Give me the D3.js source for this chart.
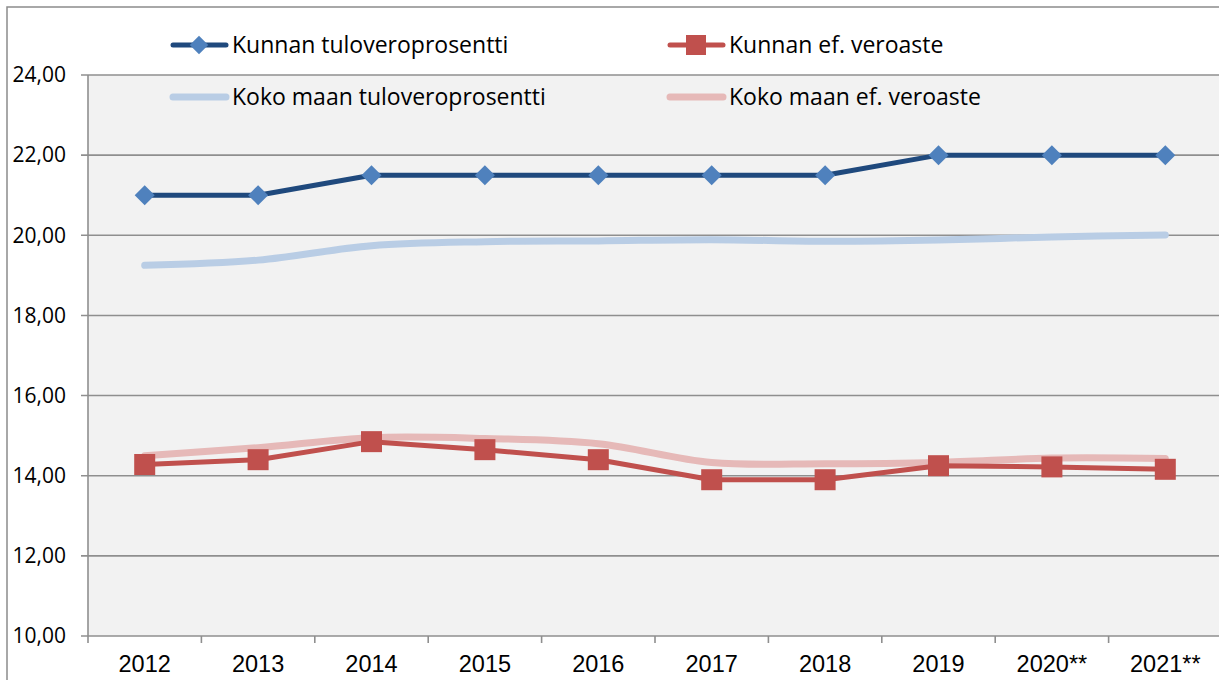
<!DOCTYPE html>
<html><head><meta charset="utf-8">
<script src="https://cdn.jsdelivr.net/npm/d3@7"></script>
<style>body{margin:0;background:#fff;}svg{display:block;}</style>
</head><body>
<script>
const categories = ["2012","2013","2014","2015","2016","2017","2018","2019","2020**","2021**"];
const kunnanTulovero = [21.0,21.0,21.5,21.5,21.5,21.5,21.5,22.0,22.0,22.0];
const kunnanEfVeroaste = [14.28,14.4,14.85,14.65,14.4,13.9,13.9,14.25,14.22,14.16];
const kokoMaanTulovero = [19.25,19.38,19.74,19.84,19.86,19.89,19.85,19.88,19.96,20.01];
const kokoMaanEfVeroaste = [14.5,14.7,14.95,14.93,14.8,14.33,14.3,14.33,14.44,14.43];
const yTicks = [10,12,14,16,18,20,22,24];

const W=1219,H=680;
const svg=d3.select("body").append("svg").attr("width",W).attr("height",H);
svg.append("rect").attr("x",7).attr("y",7).attr("width",1230).attr("height",700)
  .attr("fill","#fff").attr("stroke","#8c8c8c").attr("stroke-width",1.5);

const L=88,R=1222,T=75,B=636;
const x=d3.scaleBand().domain(categories).range([L,R]);
const y=d3.scaleLinear().domain([10,24]).range([B,T]);
const labelFont="'Open Sans', Lato, sans-serif";

svg.append("rect").attr("x",L).attr("y",T).attr("width",R-L).attr("height",B-T).attr("fill","#f2f2f2");

svg.append("g").selectAll("line").data(yTicks).join("line")
  .attr("x1",L-7).attr("x2",R).attr("y1",d=>y(d)).attr("y2",d=>y(d))
  .attr("stroke","#8f8f8f").attr("stroke-width",1.6);
svg.append("line").attr("x1",L).attr("x2",L).attr("y1",T).attr("y2",B+7).attr("stroke","#8f8f8f").attr("stroke-width",1.6);
svg.append("g").selectAll("line").data(categories.slice(1)).join("line")
  .attr("x1",d=>x(d)).attr("x2",d=>x(d)).attr("y1",B).attr("y2",B+7)
  .attr("stroke","#8f8f8f").attr("stroke-width",1.6);

svg.append("g").selectAll("text").data(yTicks).join("text")
  .attr("x",66).attr("y",d=>y(d)).attr("dy","0.35em").attr("text-anchor","end")
  .attr("font-family",labelFont).attr("font-size",21).attr("fill","#000")
  .text(d=>d.toFixed(2).replace(".",","));
svg.append("g").selectAll("text").data(categories).join("text")
  .attr("x",d=>x(d)+x.bandwidth()/2).attr("y",672).attr("text-anchor","middle")
  .attr("font-family","'Liberation Sans', Arial, sans-serif").attr("font-size",23.5).attr("fill","#000")
  .text(d=>d);

const cx=(d,i)=>x(categories[i])+x.bandwidth()/2;
const lineSmooth=d3.line().x(cx).y(d=>y(d)).curve(d3.curveCatmullRom.alpha(0.5));
const lineStraight=d3.line().x(cx).y(d=>y(d));

function drawLine(data,color,w,gen){
  svg.append("path").datum(data).attr("d",gen).attr("fill","none")
    .attr("stroke",color).attr("stroke-width",w).attr("stroke-linejoin","round").attr("stroke-linecap","round");
}
drawLine(kokoMaanTulovero,"#b9cde5",7,lineSmooth);
drawLine(kokoMaanEfVeroaste,"#e6b9b8",7,lineSmooth);
drawLine(kunnanTulovero,"#1f497d",5,lineStraight);
drawLine(kunnanEfVeroaste,"#c0504d",5,lineStraight);

svg.append("g").selectAll("path").data(kunnanTulovero).join("path")
  .attr("transform",(d,i)=>`translate(${cx(d,i)},${y(d)}) rotate(45)`)
  .attr("d",d3.symbol().type(d3.symbolSquare).size(200)).attr("fill","#4f81bd");
svg.append("g").selectAll("rect").data(kunnanEfVeroaste).join("rect")
  .attr("x",(d,i)=>cx(d,i)-10.5).attr("y",d=>y(d)-10.5).attr("width",21).attr("height",21)
  .attr("fill","#c0504d");

// legend
const legend=[
 {name:"Kunnan tuloveroprosentti",color:"#1f497d",w:5,marker:"diamond",x:171,y:45},
 {name:"Kunnan ef. veroaste",color:"#c0504d",w:5,marker:"square",x:668,y:45},
 {name:"Koko maan tuloveroprosentti",color:"#b9cde5",w:7,marker:null,x:171,y:97},
 {name:"Koko maan ef. veroaste",color:"#e6b9b8",w:7,marker:null,x:668,y:97}
];
const lg=svg.append("g").selectAll("g").data(legend).join("g").attr("transform",d=>`translate(${d.x},${d.y})`);
lg.append("line").attr("x1",2).attr("x2",55).attr("y1",0).attr("y2",0)
  .attr("stroke",d=>d.color).attr("stroke-width",d=>d.w).attr("stroke-linecap","round");
lg.filter(d=>d.marker==="diamond").append("path").attr("transform","translate(28,0) rotate(45)")
  .attr("d",d3.symbol().type(d3.symbolSquare).size(170)).attr("fill","#4f81bd");
lg.filter(d=>d.marker==="square").append("rect").attr("x",18).attr("y",-10).attr("width",20).attr("height",20).attr("fill","#c0504d");
lg.append("text").attr("x",61).attr("y",0).attr("dy","0.35em")
  .attr("font-family",labelFont).attr("font-size",23).attr("fill","#000")
  .text(d=>d.name);
</script>
</body></html>
